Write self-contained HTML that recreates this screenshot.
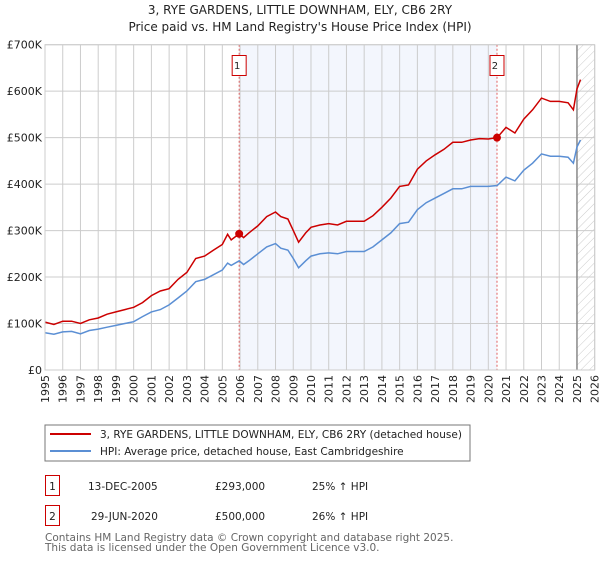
<!DOCTYPE html>
<html><head><meta charset="utf-8"><style>
body{margin:0;background:#fff;width:600px;height:560px;overflow:hidden;font-family:"DejaVu Sans","Liberation Sans",sans-serif}
svg text{font-family:"DejaVu Sans","Liberation Sans",sans-serif}
</style></head><body>
<svg id="c" width="600" height="560" xmlns="http://www.w3.org/2000/svg">
<defs><pattern id="hatch" width="6" height="6" patternUnits="userSpaceOnUse" patternTransform="rotate(45)"><line x1="0" y1="0" x2="0" y2="6" stroke="#ccc" stroke-width="1"/></pattern></defs>
<text x="300" y="14" text-anchor="middle" font-size="12" fill="#222">3, RYE GARDENS, LITTLE DOWNHAM, ELY, CB6 2RY</text>
<text x="300" y="31" text-anchor="middle" font-size="12" fill="#222">Price paid vs. HM Land Registry's House Price Index (HPI)</text>
<g id="plot"></g>
<rect x="45" y="425" width="425" height="36" fill="#fff" stroke="#777"/>
<line x1="50" y1="434" x2="91" y2="434" stroke="#cc0000" stroke-width="2"/>
<text x="100" y="438" font-size="10.5" fill="#222">3, RYE GARDENS, LITTLE DOWNHAM, ELY, CB6 2RY (detached house)</text>
<line x1="50" y1="451" x2="91" y2="451" stroke="#5b8fd4" stroke-width="2"/>
<text x="100" y="455" font-size="10.5" fill="#222">HPI: Average price, detached house, East Cambridgeshire</text>
<g>
<rect x="45.5" y="475.5" width="14" height="20" fill="none" stroke="#cc0000"/>
<text x="52.5" y="490" text-anchor="middle" font-size="10.5" fill="#222">1</text>
<text x="88" y="490" font-size="10.5" fill="#222">13-DEC-2005</text>
<text x="215" y="490" font-size="10.5" fill="#222">£293,000</text>
<text x="312" y="490" font-size="10.5" fill="#222">25% ↑ HPI</text></g>
<g>
<rect x="45.5" y="505.5" width="14" height="20" fill="none" stroke="#cc0000"/>
<text x="52.5" y="520" text-anchor="middle" font-size="10.5" fill="#222">2</text>
<text x="91" y="520" font-size="10.5" fill="#222">29-JUN-2020</text>
<text x="215" y="520" font-size="10.5" fill="#222">£500,000</text>
<text x="312" y="520" font-size="10.5" fill="#222">26% ↑ HPI</text></g>
<text x="45" y="541" font-size="10.5" fill="#666">Contains HM Land Registry data © Crown copyright and database right 2025.</text>
<text x="45" y="551" font-size="10.5" fill="#666">This data is licensed under the Open Government Licence v3.0.</text>
</svg>
<script>
const yearTicks=[1995,1996,1997,1998,1999,2000,2001,2002,2003,2004,2005,2006,2007,2008,2009,2010,2011,2012,2013,2014,2015,2016,2017,2018,2019,2020,2021,2022,2023,2024,2025,2026];
const priceTicks=[0,100000,200000,300000,400000,500000,600000,700000];
const priceLabels=["£0","£100K","£200K","£300K","£400K","£500K","£600K","£700K"];
const dates=[1995,1995.5,1996,1996.5,1997,1997.5,1998,1998.5,1999,1999.5,2000,2000.5,2001,2001.5,2002,2002.5,2003,2003.5,2004,2004.5,2005,2005.3,2005.5,2005.95,2006.2,2006.5,2007,2007.5,2008,2008.3,2008.7,2009,2009.3,2009.7,2010,2010.5,2011,2011.5,2012,2012.5,2013,2013.5,2014,2014.5,2015,2015.5,2016,2016.5,2017,2017.5,2018,2018.5,2019,2019.5,2020,2020.5,2021,2021.5,2022,2022.5,2023,2023.5,2024,2024.5,2024.8,2025,2025.2];
const hpiValues=[80,77,82,83,78,85,88,92,96,100,104,115,125,130,140,155,170,190,195,205,215,230,225,235,227,235,250,265,272,262,258,240,220,235,245,250,252,250,255,255,255,265,280,295,315,318,345,360,370,380,390,390,395,395,395,397,415,407,430,445,465,460,460,458,445,480,495];
const propValues=[103,98,105,105,100,108,112,120,125,130,135,145,160,170,175,195,210,240,245,258,270,292,280,293,285,295,310,330,340,330,325,300,275,295,307,312,315,312,320,320,320,332,350,370,395,398,432,450,463,475,490,490,495,498,497,500,522,510,540,560,585,578,578,575,560,605,625];
const saleDates=[2005.95,2020.49];
const salePrices=[293000,500000];
const saleLabels=["1","2"];
const X0=45,X1=594.7,Y0=370,Y1=44.7;
const x=v=>X0+(v-1995)/(2026-1995)*(X1-X0);
const y=v=>Y0-v/700000*(Y0-Y1);
const NS="http://www.w3.org/2000/svg";
const g=document.getElementById('plot');
function mk(t,a){const e=document.createElementNS(NS,t);for(const k in a)e.setAttribute(k,a[k]);g.appendChild(e);return e;}
let e;
e=mk('rect',{x:x(saleDates[0]),y:Y1,width:x(saleDates[1])-x(saleDates[0]),height:Y0-Y1,fill:'#f3f6fd'});


e=mk('rect',{x:x(2025),y:Y1,width:x(2026)-x(2025),height:Y0-Y1,fill:'url(#hatch)'});


yearTicks.forEach(t=>{
 e=mk('line',{x1:x(t),x2:x(t),y1:Y1,y2:Y0,stroke:'#ccc','stroke-width':1});
 
 
 const tx=x(t)+4,ty=Y0+5;
 e=mk('text',{x:tx,y:ty,'font-size':11,fill:'#222','text-anchor':'end',transform:`rotate(-90 ${tx} ${ty})`});
 e.textContent=t;
 
 
});
priceTicks.forEach((t,i)=>{
 e=mk('line',{x1:X0,x2:X1,y1:y(t),y2:y(t),stroke:'#ccc','stroke-width':1});
 
 
 e=mk('text',{x:X0-3,y:y(t)+4,'font-size':11,fill:'#222','text-anchor':'end'});
 e.textContent=priceLabels[i];
 
 
});
e=mk('line',{x1:x(2025),x2:x(2025),y1:Y1,y2:Y0,stroke:'#888','stroke-width':1.5});


saleDates.forEach((d,i)=>{
 e=mk('line',{x1:x(d),x2:x(d),y1:Y1,y2:Y0,stroke:'#e06060','stroke-width':1,'stroke-dasharray':'2,2'});
 
 
 e=mk('rect',{x:x(d)-7,y:55.5,width:14,height:20,fill:'#fff',stroke:'#cc0000'});
 
 
 e=mk('text',{x:x(d)-2,y:69,'font-size':10,fill:'#222','text-anchor':'middle'});
 e.textContent=saleLabels[i];
 
 
});
const pts=v=>dates.map((d,i)=>x(d).toFixed(1)+','+y(v[i]*1000).toFixed(1)).join(' ');
e=mk('polyline',{points:pts(hpiValues),fill:'none',stroke:'#5b8fd4','stroke-width':1.5});


e=mk('polyline',{points:pts(propValues),fill:'none',stroke:'#cc0000','stroke-width':1.5});


saleDates.forEach((d,i)=>{
 e=mk('circle',{cx:x(d),cy:y(salePrices[i]),r:4,fill:'#cc0000'});
 
 
});
e=mk('rect',{x:X0,y:Y1,width:X1-X0,height:Y0-Y1,fill:'none',stroke:'#ccc'});


</script>
</body></html>
